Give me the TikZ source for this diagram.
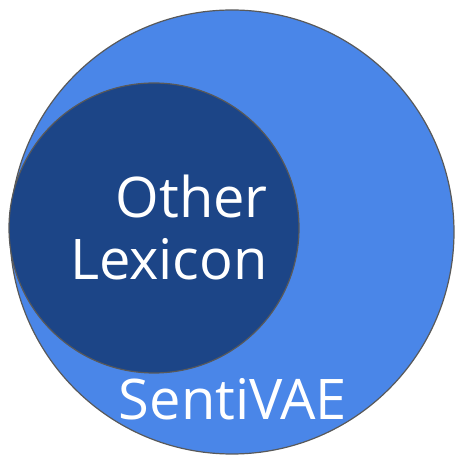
\documentclass[tikz,border=0pt]{standalone}
\usepackage{fontspec}
\setmainfont{Open Sans}
\definecolor{outerblue}{HTML}{4A86E8}
\definecolor{innerblue}{HTML}{1C4587}
\definecolor{rimgray}{HTML}{595959}
\begin{document}
\begin{tikzpicture}[x=1pt,y=1pt,
  disc/.style={draw=rimgray,line width=1.2pt,circle,inner sep=0pt},
  label/.style={text=white,font=\fontsize{56}{62}\selectfont,inner sep=0pt}]
\useasboundingbox (0,0) rectangle (456,455);
\node[disc,fill=outerblue,minimum size=444pt] (outer) at (232,223) {};
\node[disc,fill=innerblue,minimum size=290pt] (inner) at (154,227) {};
\node[label,anchor=base east] (other) at (268,237) {Other};
\node[label,anchor=base east] (lexicon) at (268,175) {Lexicon};
\node[label,anchor=base] (senti) at (233,35) {SentiVAE};
\end{tikzpicture}
\end{document}
